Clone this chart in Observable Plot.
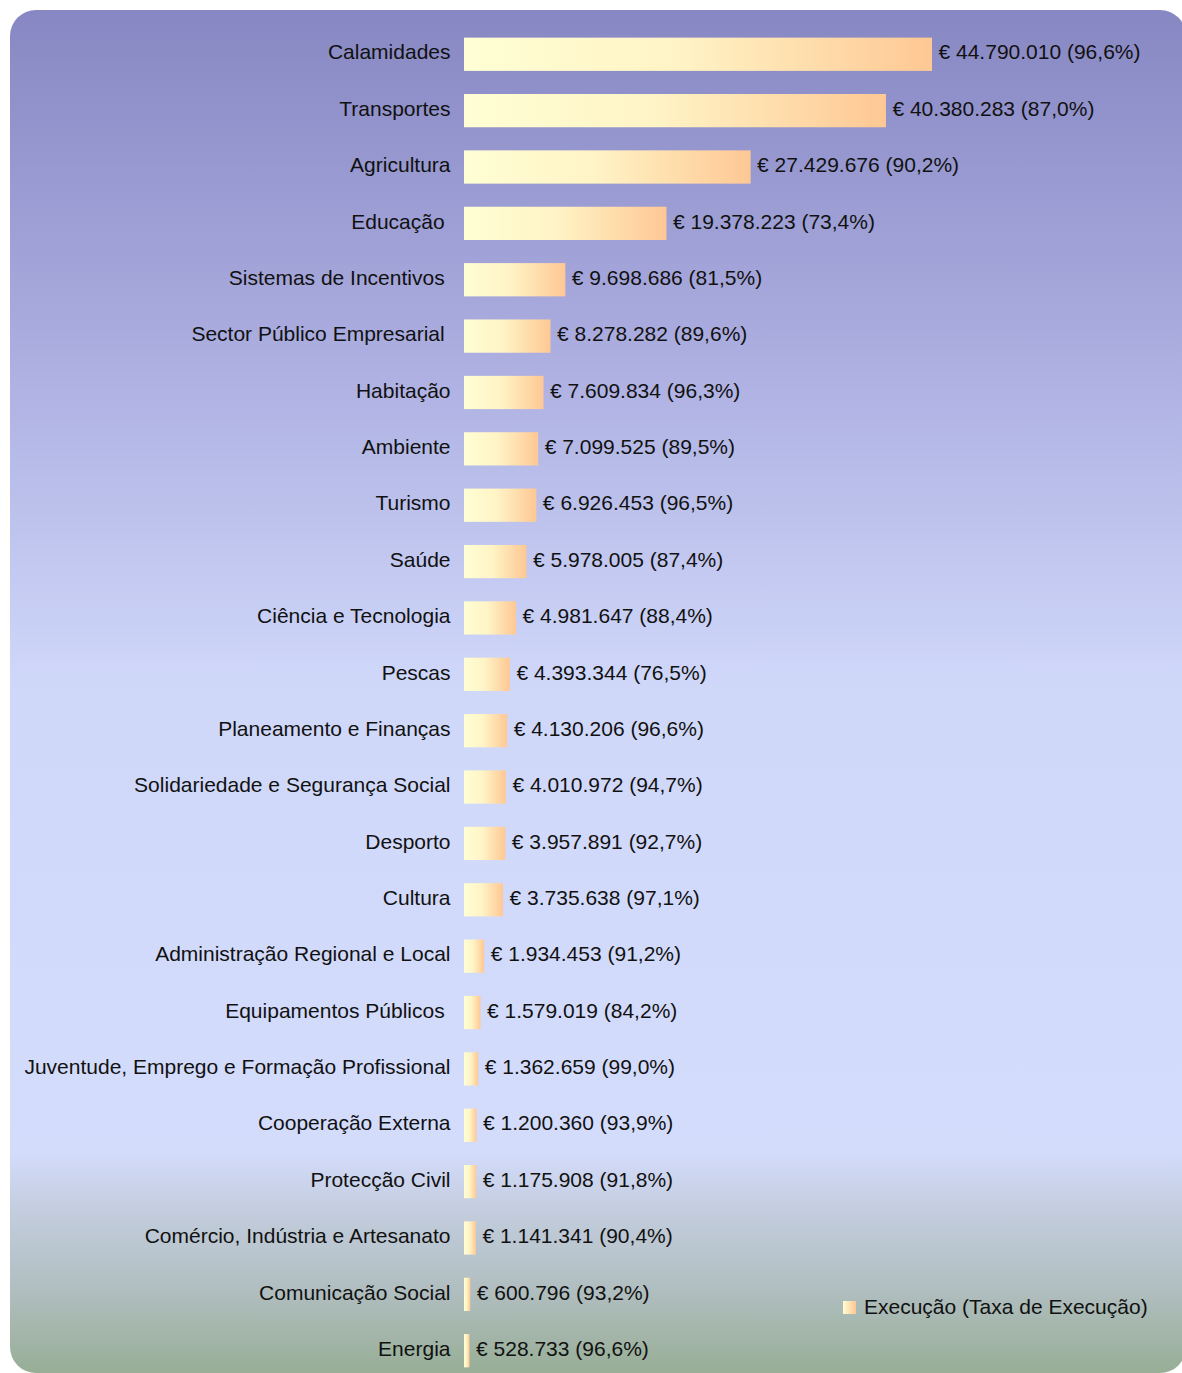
<!DOCTYPE html>
<html>
<head>
<meta charset="utf-8">
<script src="https://cdn.jsdelivr.net/npm/d3@7"></script>
<script src="https://cdn.jsdelivr.net/npm/@observablehq/plot@0.6"></script>
<style>
  html, body { margin: 0; padding: 0; background: #ffffff; }
  #wrap { position: relative; width: 1182px; height: 1373px; overflow: hidden; }
  #bg {
    position: absolute; left: 10px; top: 10px; width: 1176px; height: 1363px;
    border-radius: 26px;
    background: linear-gradient(to bottom,
      #8787c3 0px, #a9abde 320px, #d0d8fa 680px, #d4dcfc 1140px,
      #c2ccdc 1205px, #b0bec0 1280px, #98ae96 1363px);
  }
  #chart { position: absolute; left: 0; top: 0; }
  #legend {
    position: absolute; left: 843px; top: 1295px;
    font: 21px "Liberation Sans", Arial, sans-serif; color: #111;
    display: flex; align-items: center; gap: 8px; white-space: nowrap;
  }
  #legend .sw { width: 13px; height: 13px; background: linear-gradient(to right, #fffcd2, #fdc894); }
</style>
</head>
<body>
<div id="wrap">
  <div id="bg"></div>
  <div id="chart"></div>
  <div id="legend"><span class="sw"></span><span id="legtext"></span></div>
</div>
<script>
const categories = [
  "Calamidades", "Transportes", "Agricultura", "Educação ", "Sistemas de Incentivos ",
  "Sector Público Empresarial ", "Habitação", "Ambiente", "Turismo", "Saúde",
  "Ciência e Tecnologia", "Pescas", "Planeamento e Finanças", "Solidariedade e Segurança Social",
  "Desporto", "Cultura", "Administração Regional e Local", "Equipamentos Públicos ",
  "Juventude, Emprego e Formação Profissional", "Cooperação Externa", "Protecção Civil",
  "Comércio, Indústria e Artesanato", "Comunicação Social", "Energia"
];
const execucao = [
  44790010, 40380283, 27429676, 19378223, 9698686,
  8278282, 7609834, 7099525, 6926453, 5978005,
  4981647, 4393344, 4130206, 4010972,
  3957891, 3735638, 1934453, 1579019,
  1362659, 1200360, 1175908,
  1141341, 600796, 528733
];
const taxa = [
  96.6, 87.0, 90.2, 73.4, 81.5,
  89.6, 96.3, 89.5, 96.5, 87.4,
  88.4, 76.5, 96.6, 94.7,
  92.7, 97.1, 91.2, 84.2,
  99.0, 93.9, 91.8,
  90.4, 93.2, 96.6
];
const legendLabel = "Execução (Taxa de Execução)";

const fmtInt = v => d3.format(",")(v).replace(/,/g, ".");
const fmtPct = v => v.toFixed(1).replace(".", ",") + "%";

const data = categories.map((c, i) => ({
  cat: c,
  value: execucao[i],
  label: "€ " + fmtInt(execucao[i]) + " (" + fmtPct(taxa[i]) + ")"
}));

document.getElementById("legtext").textContent = legendLabel;

const chart = Plot.plot({
  width: 1182,
  height: 1373,
  marginLeft: 464,
  marginRight: 250,
  marginTop: 32,
  marginBottom: 0,
  style: { background: "transparent", fontFamily: "'Liberation Sans', Arial, sans-serif", fontSize: "21px", color: "#111" },
  x: { domain: [0, d3.max(execucao)], axis: null },
  y: { domain: categories, paddingInner: 0.41, paddingOuter: 0.1, round: false, axis: null },
  marks: [
    () => {
      const ns = "http://www.w3.org/2000/svg";
      const defs = document.createElementNS(ns, "defs");
      const g = document.createElementNS(ns, "linearGradient");
      g.setAttribute("id", "barGrad");
      g.setAttribute("x1", "0"); g.setAttribute("x2", "1");
      g.setAttribute("y1", "0"); g.setAttribute("y2", "0");
      [["0%", "#fffed4"], ["45%", "#fff4c6"], ["100%", "#fec894"]].forEach(([o, c]) => {
        const s = document.createElementNS(ns, "stop");
        s.setAttribute("offset", o); s.setAttribute("stop-color", c);
        g.appendChild(s);
      });
      defs.appendChild(g);
      return defs;
    },
    Plot.barX(data, { x: "value", y: "cat", fill: "url(#barGrad)" }),
    Plot.text(data, { x: 0, y: "cat", text: "cat", textAnchor: "end", dx: -14, dy: -2, fill: "#111", fontSize: 21 }),
    Plot.text(data, { x: "value", y: "cat", text: "label", textAnchor: "start", dx: 6, dy: -2, fill: "#111", fontSize: 21 })
  ]
});
document.getElementById("chart").appendChild(chart);
</script>
</body>
</html>
